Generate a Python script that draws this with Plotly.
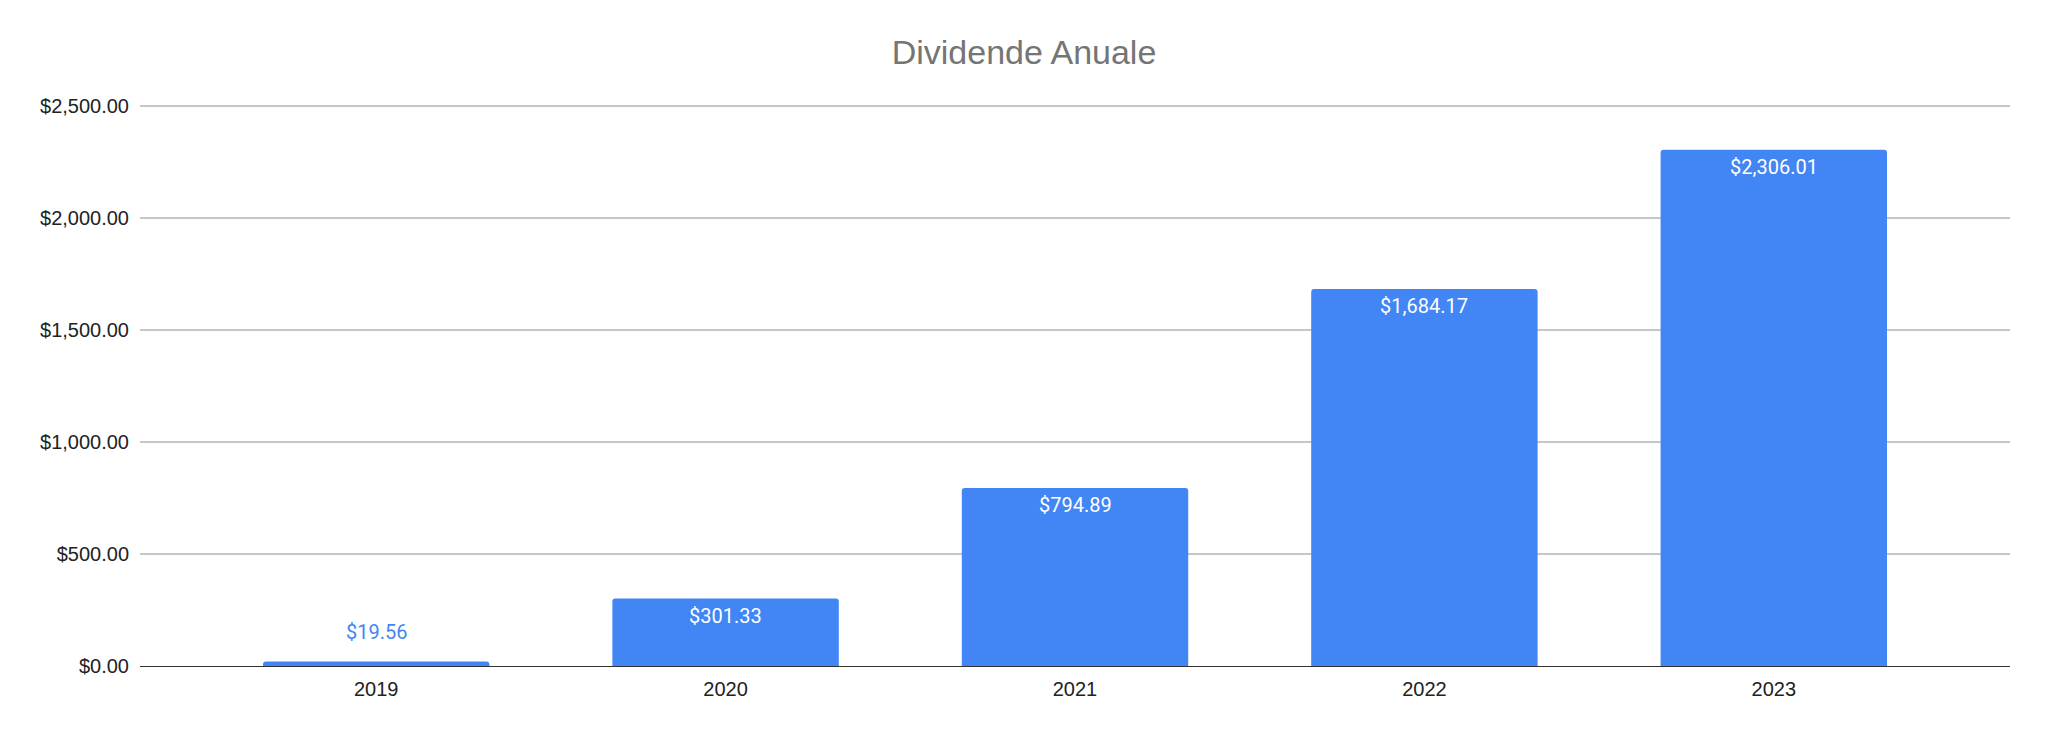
import plotly.graph_objects as go

years = ["2019", "2020", "2021", "2022", "2023"]
dividends = [19.56, 301.33, 794.89, 1684.17, 2306.01]
labels = ["$19.56", "$301.33", "$794.89", "$1,684.17", "$2,306.01"]
y_ticks = [0, 500, 1000, 1500, 2000, 2500]
y_tick_text = ["$0.00", "$500.00", "$1,000.00", "$1,500.00", "$2,000.00", "$2,500.00"]

BLUE = "#4285F4"

fig = go.Figure()
fig.add_trace(go.Bar(
    x=years, y=dividends,
    marker=dict(color=BLUE, cornerradius=3, line=dict(width=0)),
    width=0.648,
    hoverinfo="x+y",
))

annotations = []
for i, (v, t) in enumerate(zip(dividends, labels)):
    inside = v > 150
    annotations.append(dict(
        x=i, y=v, xref="x", yref="y", text=t, showarrow=False,
        yanchor="middle", yshift=-17 if inside else 30,
        font=dict(family="Roboto", size=20, color="white" if inside else BLUE),
    ))

fig.update_layout(
    width=2040, height=726,
    margin=dict(l=132, r=38, t=97, b=68),
    paper_bgcolor="white", plot_bgcolor="white",
    title=dict(text="Dividende Anuale", x=(1024 - 8) / 2040, xref="container", xanchor="center",
               y=1 - (52 - 8) / 726, yref="container", yanchor="middle",
               font=dict(family="Liberation Sans", size=34, color="#757575")),
    showlegend=False,
    annotations=annotations,
    xaxis=dict(type="category", range=[-0.676, 4.676], showgrid=False, ticks="", showline=False,
               tickfont=dict(family="Liberation Sans", size=20, color="#222222"),
               ticklabelstandoff=9),
    yaxis=dict(range=[0, 2506], tickvals=y_ticks, ticktext=y_tick_text,
               showgrid=True, gridcolor="#c6c6c6", gridwidth=1.5,
               zeroline=True, zerolinecolor="#333333", zerolinewidth=1.4,
               ticks="", showline=False,
               tickfont=dict(family="Liberation Sans", size=20, color="#222222"),
               ticklabelstandoff=10),
)

fig.write_html("out.html")
